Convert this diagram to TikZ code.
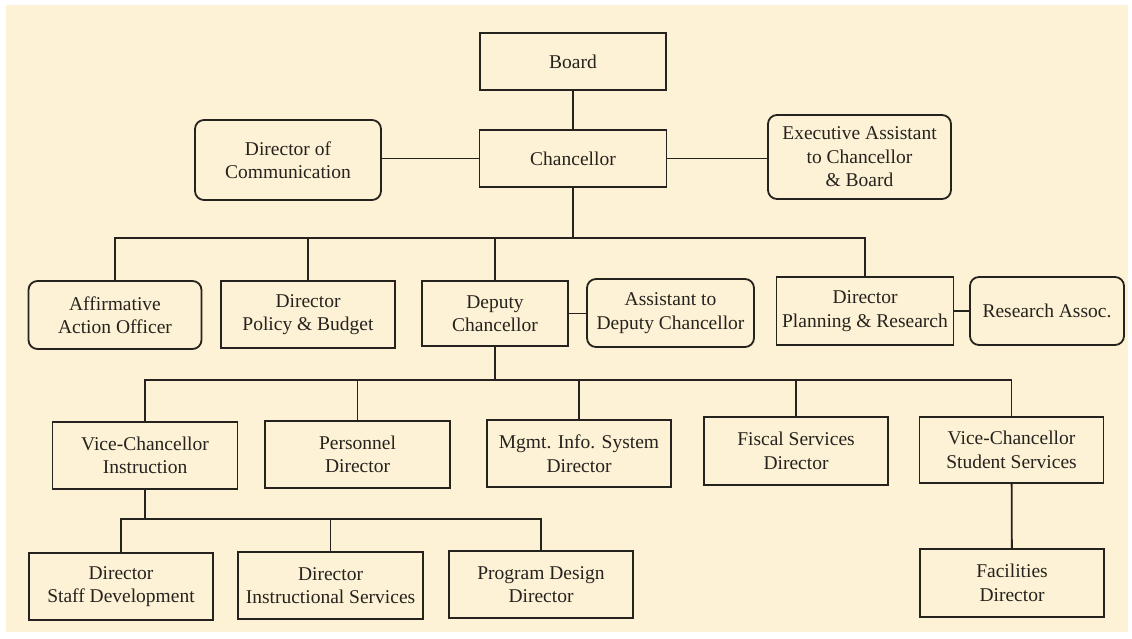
\documentclass[tikz,border=0pt]{standalone}
\usepackage{fontspec}
\setmainfont{Liberation Serif}
\definecolor{paper}{RGB}{253,242,213}
\definecolor{ink}{RGB}{38,34,30}
\begin{document}
\begin{tikzpicture}[x=1pt, y=-1pt,
    box/.style={rectangle, draw=ink, line width=1.8pt, align=center, text=ink, inner sep=2pt,
        font=\fontsize{19.5}{23.5}\selectfont, minimum height=67pt},
    rbox/.style={box, rounded corners=9pt},
    link/.style={draw=ink, line width=1.8pt}]
    \useasboundingbox (0,0) rectangle (1132,638);
    \fill[white] (0,0) rectangle (1132,638);
    \fill[paper] (6,5) rectangle (1128,632);

    %Nodes
    \node[box, minimum width=186pt, minimum height=57pt] at (573, 61.5) (board) {Board};
    \node[box, minimum width=187pt, minimum height=57pt] at (573, 158.5) (chan) {Chancellor};
    \node[rbox, minimum width=186pt, minimum height=80pt] at (288, 160) (comm) {Director of\\Communication};
    \node[rbox, minimum width=183pt, minimum height=84pt] at (859.5, 157) (exec) {Executive Assistant\\to Chancellor\\\& Board};

    \node[rbox, minimum width=173pt, minimum height=68pt] at (115, 315) (aff) {Affirmative\\Action Officer};
    \node[box, minimum width=174pt] at (308, 314.5) (policy) {Director\\Policy \& Budget};
    \node[box, minimum width=146pt, minimum height=65pt] at (495, 313.5) (deputy) {Deputy\\Chancellor};
    \node[rbox, minimum width=167pt, minimum height=68pt] at (670.5, 313) (asst) {Assistant to\\Deputy Chancellor};
    \node[box, minimum width=177pt, minimum height=68pt] at (865, 311) (plan) {Director\\Planning \& Research};
    \node[rbox, minimum width=154pt, minimum height=68pt] at (1047, 311) (assoc) {Research Assoc.};

    \node[box, minimum width=185pt] at (145, 455.5) (vci) {Vice-Chancellor\\Instruction};
    \node[box, minimum width=185pt] at (357.5, 454.5) (pers) {Personnel\\Director};
    \node[box, minimum width=184pt] at (579, 453.5) (mis) {Mgmt. Info. System\\Director};
    \node[box, minimum width=184pt, minimum height=68pt] at (796, 451) (fisc) {Fiscal Services\\Director};
    \node[box, minimum width=184pt, minimum height=66pt] at (1011.5, 450) (vcs) {Vice-Chancellor\\Student Services};

    \node[box, minimum width=184pt] at (121, 586.5) (staff) {Director\\Staff Development};
    \node[box, minimum width=185pt] at (330.5, 585.5) (instr) {Director\\Instructional Services};
    \node[box, minimum width=184pt] at (541, 584.5) (prog) {Program Design\\Director};
    \node[box, minimum width=184pt, minimum height=68pt] at (1012, 583) (fac) {Facilities\\Director};

    \coordinate (bus1) at (0, 238);
    \coordinate (bus2) at (0, 380);
    \coordinate (bus3) at (0, 519);

    %Lines
    \draw[link] (board) -- (chan);
    \draw[link] (chan.west) -- (comm.east |- chan.west);
    \draw[link] (chan.east) -- (exec.west |- chan.east);
    \draw[link] (chan) -- (chan |- bus1);
    \draw[link] (aff.north) |- (plan.north |- bus1) -- (plan.north);
    \draw[link] (policy.north) -- (policy.north |- bus1);
    \draw[link] (deputy.north) -- (deputy.north |- bus1);
    \draw[link] (deputy.east) -- (asst.west |- deputy.east);
    \draw[link] (plan.east) -- (assoc.west |- plan.east);

    \draw[link] (deputy) -- (deputy |- bus2);
    \draw[link] (vci.north) |- (vcs.north |- bus2) -- (vcs.north);
    \draw[link] (pers.north) -- (pers.north |- bus2);
    \draw[link] (mis.north) -- (mis.north |- bus2);
    \draw[link] (fisc.north) -- (fisc.north |- bus2);

    \draw[link] (vci) -- (vci |- bus3);
    \draw[link] (staff.north) |- (prog.north |- bus3) -- (prog.north);
    \draw[link] (instr.north) -- (instr.north |- bus3);
    \draw[link] (vcs) -- (fac);

\end{tikzpicture}
\end{document}
